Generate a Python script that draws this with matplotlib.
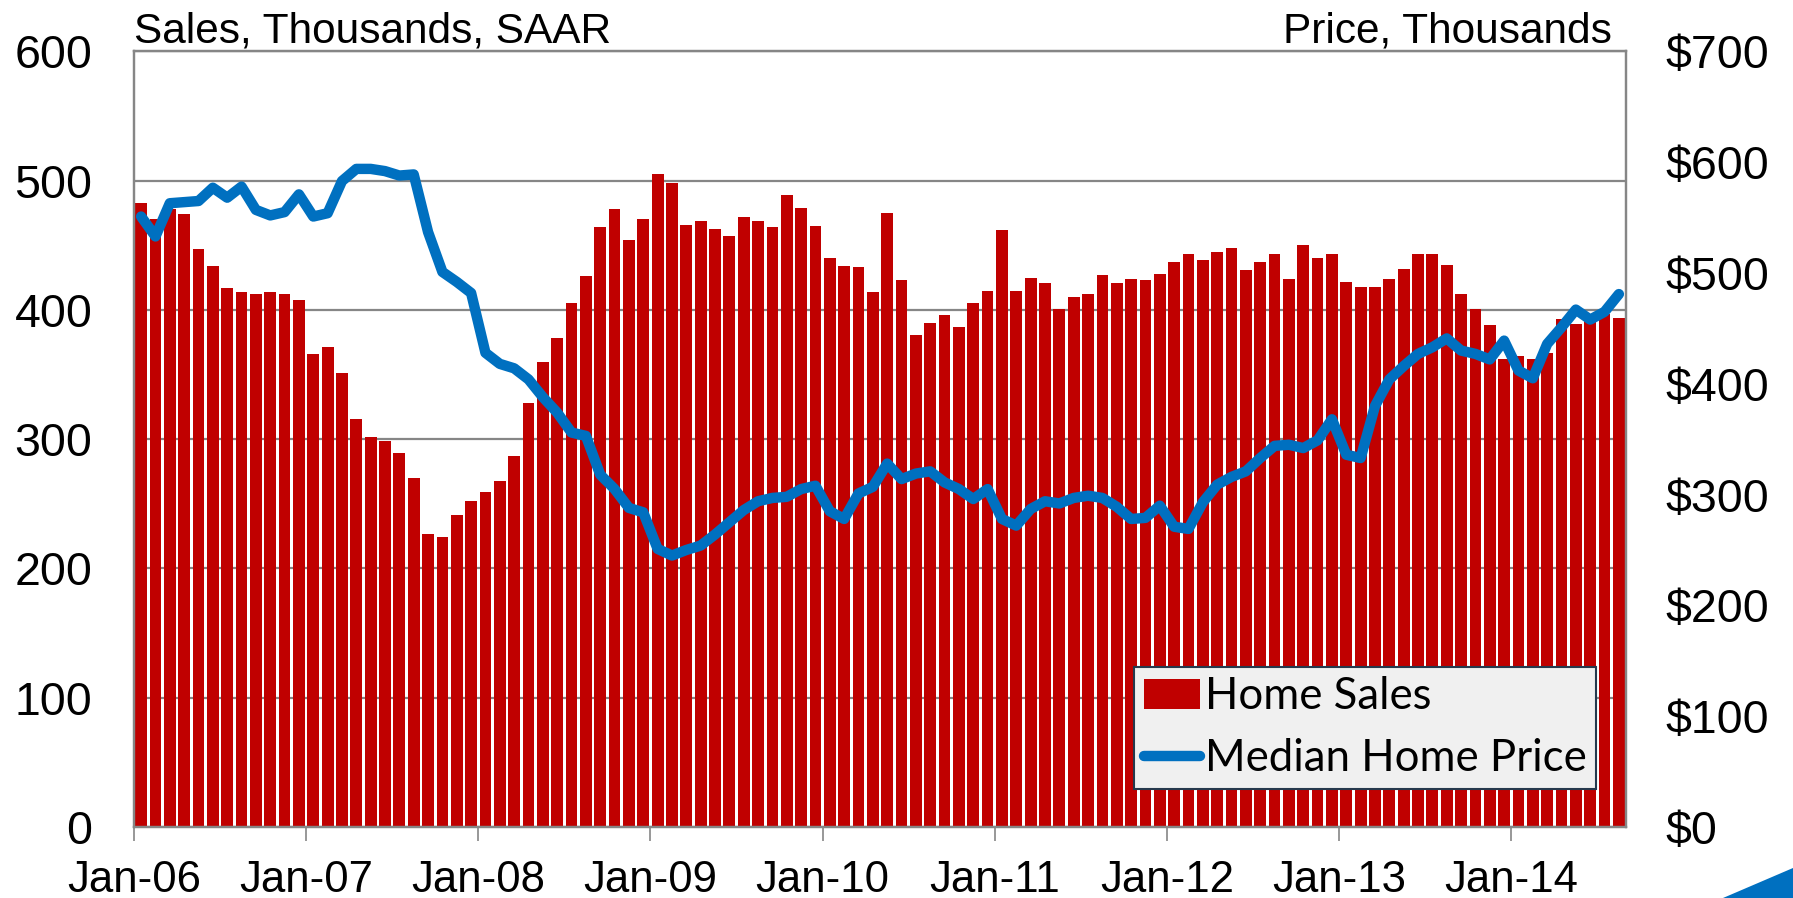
import numpy as np
import matplotlib
matplotlib.use("Agg")
from matplotlib import pyplot as plt
from matplotlib.patches import Polygon
from matplotlib.lines import Line2D
from matplotlib.patches import Patch

# monthly data, Jan-06 .. Aug-14
years = ["06", "07", "08", "09", "10", "11", "12", "13", "14"]
tick_labels = ["Jan-" + y for y in years]

home_sales = [
    483, 470, 478, 474, 447, 434, 417, 414, 412, 414, 412, 408,   # 2006
    366, 371, 351, 316, 302, 299, 289, 270, 227, 224, 241, 252,   # 2007
    259, 268, 287, 328, 360, 378, 405, 426, 464, 478, 454, 470,   # 2008
    505, 498, 466, 469, 463, 457, 472, 469, 464, 489, 479, 465,   # 2009
    440, 434, 433, 414, 475, 423, 381, 390, 396, 387, 405, 415,   # 2010
    462, 415, 425, 421, 401, 410, 412, 427, 421, 424, 423, 428,   # 2011
    437, 443, 439, 445, 448, 431, 437, 443, 424, 450, 440, 443,   # 2012
    422, 418, 418, 424, 432, 443, 443, 435, 412, 401, 388, 362,   # 2013
    364, 362, 367, 393, 389, 395, 397, 394,                       # 2014
]

median_price = [
    551, 533, 563, 564, 565, 577, 568, 578, 557, 552, 555, 571,   # 2006
    551, 554, 583, 594, 594, 592, 588, 589, 537, 501, 492, 482,   # 2007
    428, 418, 414, 404, 388, 374, 356, 353, 318, 305, 288, 284,   # 2008
    251, 245, 250, 254, 264, 275, 286, 294, 297, 298, 305, 308,   # 2009
    285, 278, 301, 307, 328, 314, 319, 321, 311, 305, 296, 305,   # 2010
    278, 272, 287, 294, 292, 297, 299, 297, 289, 278, 279, 290,   # 2011
    271, 269, 293, 309, 316, 321, 333, 344, 345, 342, 349, 368,   # 2012
    336, 333, 380, 404, 416, 427, 433, 441, 430, 427, 422, 439,   # 2013
    412, 405, 436, 451, 467, 458, 465, 481,                       # 2014
]

sales_ticks = [0, 100, 200, 300, 400, 500, 600]
price_ticks = [0, 100, 200, 300, 400, 500, 600, 700]

red = "#c00000"
blue = "#0070c0"
grid_gray = "#868686"

fig = plt.figure(figsize=(17.93, 8.98), dpi=100)
ax = fig.add_axes([0.0747, 0.0791, 0.8322, 0.8636])
ax2 = ax.twinx()

n = len(home_sales)
x = np.arange(n) + 0.5

ax.bar(x, home_sales, width=0.82, color=red, edgecolor="none", zorder=2)
ax.set_xlim(0, n)
ax.set_ylim(0, 600)
ax.set_yticks(sales_ticks)
ax.yaxis.grid(True, color=grid_gray, linewidth=1.6, zorder=0)
ax.set_axisbelow(True)

ax2.plot(x, median_price, color=blue, linewidth=7.5, solid_capstyle="round",
         solid_joinstyle="round", zorder=3)
ax2.set_ylim(0, 700)
ax2.set_yticks(price_ticks)
ax2.set_yticklabels(["$" + str(v) for v in price_ticks])

ax.set_xticks(np.arange(0, n, 12))
ax.set_xticklabels(tick_labels)

for lab in ax.get_xticklabels():
    lab.set_family("Liberation Sans")
    lab.set_fontsize(31.5)
for lab in ax.get_yticklabels() + ax2.get_yticklabels():
    lab.set_family("Liberation Sans")
    lab.set_fontsize(33.5)

ax.tick_params(axis="x", length=10, width=1.2, color=grid_gray, pad=14, direction="out")
ax.tick_params(axis="y", length=0, pad=30)
ax2.tick_params(axis="y", length=0, pad=28)

for a in (ax, ax2):
    for s in a.spines.values():
        s.set_color(grid_gray)
        s.set_linewidth(1.6)

fig.text(0.0747, 0.965, "Sales, Thousands, SAAR", family="Liberation Sans",
         fontsize=30.5, ha="left", va="center")
fig.text(0.899, 0.965, "Price, Thousands", family="Liberation Sans",
         fontsize=30.5, ha="right", va="center")

handles = [Patch(facecolor=red, edgecolor="none"),
           Line2D([0], [0], color=blue, linewidth=7.5, solid_capstyle="round")]
leg = ax2.legend(handles, ["Home Sales", "Median Home Price"],
                 loc="lower right", bbox_to_anchor=(0.98, 0.049),
                 prop={"family": "Lato", "size": 31.5}, frameon=True, fancybox=False,
                 handlelength=1.3, handletextpad=0.1, borderpad=0.22,
                 labelspacing=0.48, borderaxespad=0)
leg.get_frame().set_facecolor("#f0f0f0")
leg.get_frame().set_edgecolor("#26394d")
leg.get_frame().set_linewidth(1.5)
leg.get_frame().set_alpha(1)

# slide corner decoration
tri = Polygon([[1723 / 1793, 0], [1, 30 / 898], [1, 0]], closed=True,
              transform=fig.transFigure, facecolor=blue, edgecolor="none")
fig.patches.append(tri)

fig.savefig("out.png", dpi=100)
